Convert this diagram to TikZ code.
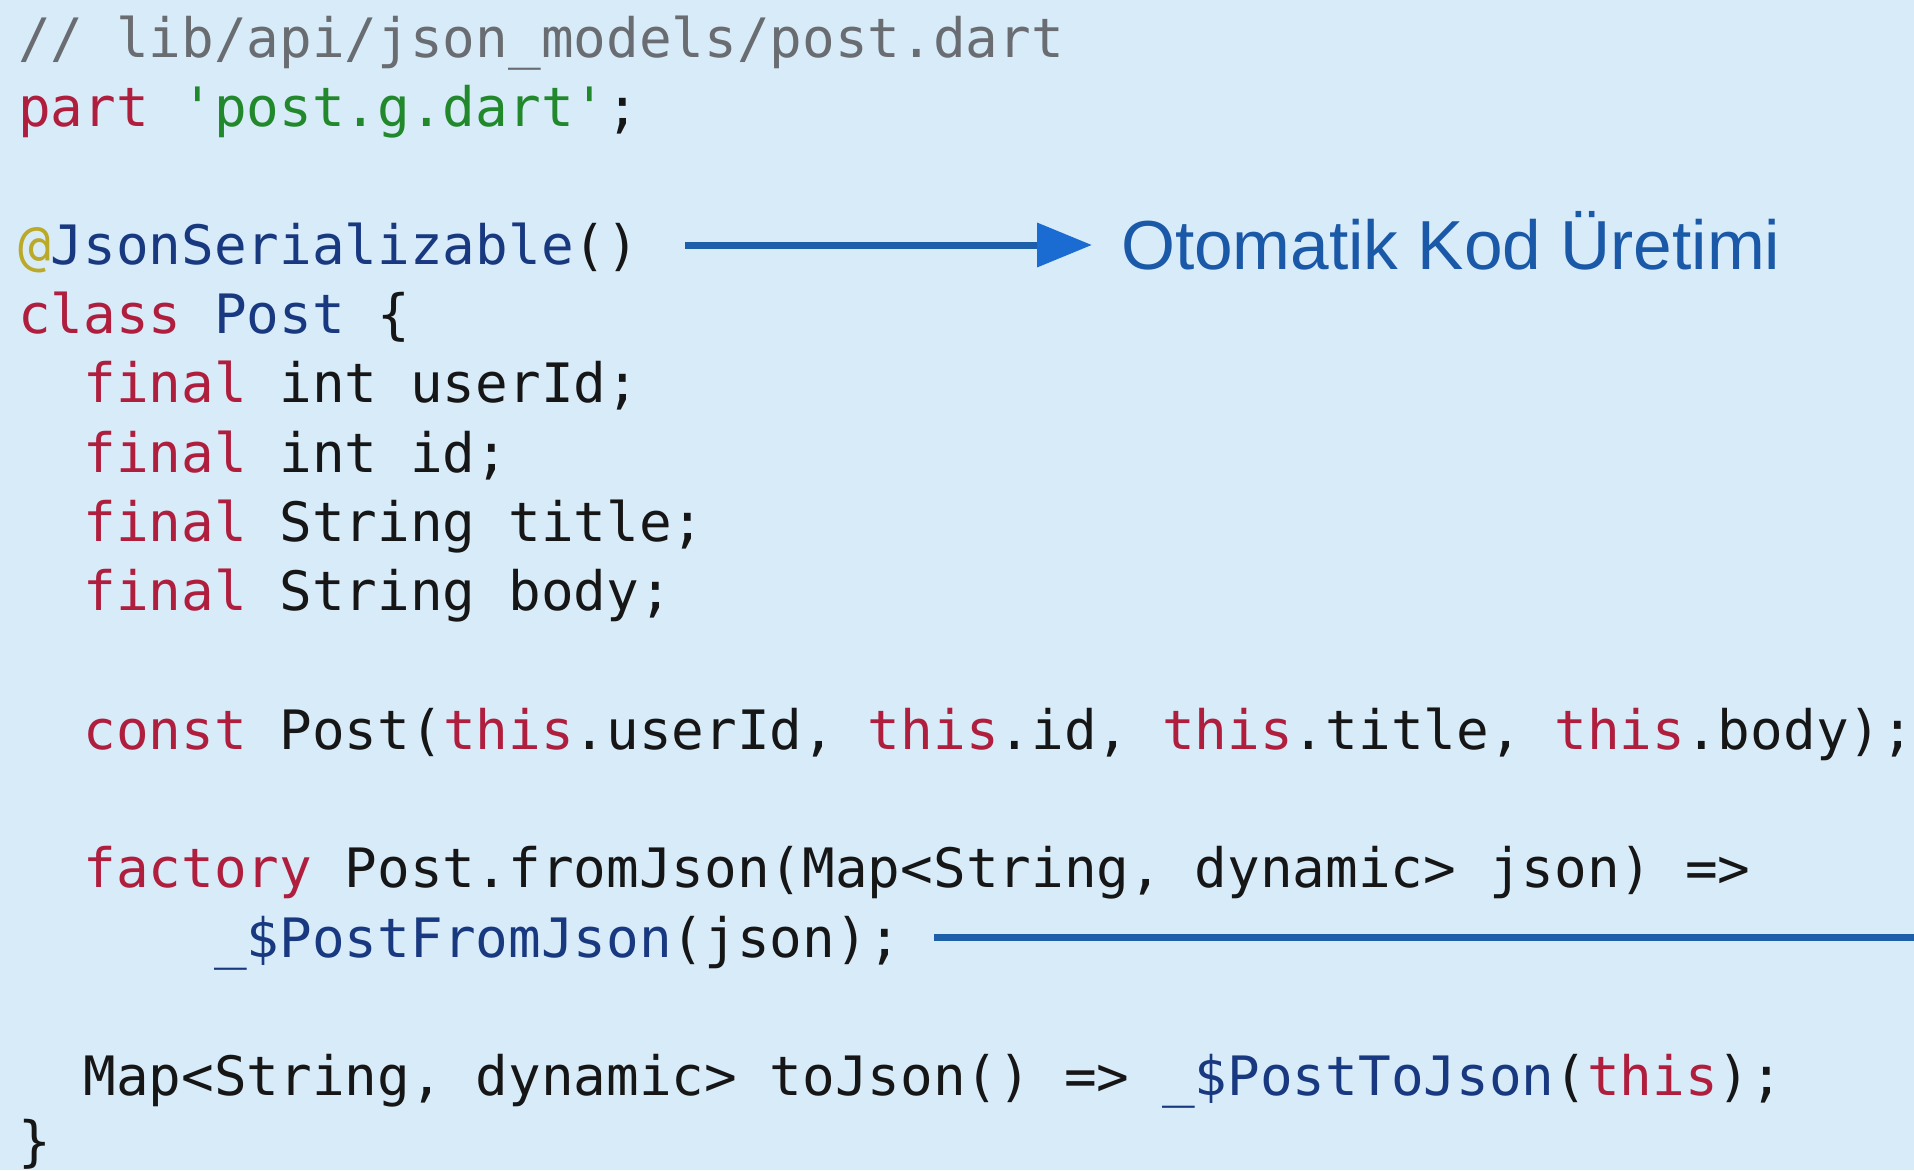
\documentclass[tikz,border=0pt]{standalone}
\usepackage{fontspec}
\setmonofont{DejaVu Sans Mono}
\setsansfont{Liberation Sans}
\usetikzlibrary{arrows.meta}
\definecolor{bg}{RGB}{216,235,249}
\definecolor{kw}{RGB}{176,30,62}
\definecolor{strc}{RGB}{34,136,44}
\definecolor{cls}{RGB}{24,56,128}
\definecolor{cm}{RGB}{105,108,112}
\definecolor{atc}{RGB}{186,170,40}
\definecolor{fg}{RGB}{22,22,22}
\definecolor{arr}{RGB}{30,95,170}
\definecolor{arrhead}{RGB}{26,108,210}
\definecolor{lblc}{RGB}{26,88,168}
\newcommand{\ckw}[1]{\textcolor{kw}{#1}}
\newcommand{\ccls}[1]{\textcolor{cls}{#1}}
\newcommand{\cstrl}[1]{\textcolor{strc}{#1}}
\tikzset{
  codeline/.style={anchor=base west, inner sep=0pt, outer sep=0pt,
    font=\ttfamily\fontsize{54.3}{65}\selectfont, text=fg},
  lbltext/.style={anchor=base west, inner sep=0pt, outer sep=0pt,
    font=\sffamily\fontsize{69.4}{80}\selectfont, text=lblc},
  bluearrow/.style={draw=arr, line width=7pt,
    -{Triangle[length=55pt,width=43pt,color=arrhead,fill=arrhead]}},
  blueline/.style={draw=arr, line width=7pt}
}
\begin{document}
\begin{tikzpicture}[x=1pt,y=-1pt]
\fill[bg] (0,0) rectangle (1914,1170);
\useasboundingbox (0,0) rectangle (1914,1170);
% col x = 18 + 32.7*col
\node[codeline, text=cm] (l0) at (18,57) {// lib/api/json\_models/post.dart};
\node[codeline] (l1) at (18,126) {\ckw{part} \cstrl{'post.g.dart'};};
\node[codeline] (l3) at (18,264) {\textcolor{atc}{@}\ccls{JsonSerializable}()};
\node[codeline] (l4) at (18,333) {\ckw{class} \ccls{Post} \{};
\node[codeline] (l5) at (83.4,402.5) {\ckw{final} int userId;};
\node[codeline] (l6) at (83.4,472) {\ckw{final} int id;};
\node[codeline] (l7) at (83.4,541) {\ckw{final} String title;};
\node[codeline] (l8) at (83.4,610) {\ckw{final} String body;};
\node[codeline] (l10) at (83.4,749) {\ckw{const} Post(\ckw{this}.userId, \ckw{this}.id, \ckw{this}.title, \ckw{this}.body);};
\node[codeline] (l12) at (83.4,887.5) {\ckw{factory} Post.fromJson(Map<String, dynamic> json) =>};
\node[codeline] (l13) at (214.2,957) {\ccls{\_\$PostFromJson}(json);};
\node[codeline] (l15) at (83.4,1095) {Map<String, dynamic> toJson() => \ccls{\_\$PostToJson}(\ckw{this});};
\node[codeline] (l16) at (18,1160) {\}};
\node[lbltext] (lbl) at (1121,269) {Otomatik Kod Üretimi};
\coordinate (a1s) at (685,245);
\coordinate (a1e) at (1092,245);
\coordinate (a2s) at (934,937);
\coordinate (a2e) at (1914,937);
\draw[bluearrow] (a1s) -- (a1e);
\draw[blueline] (a2s) -- (a2e);
\end{tikzpicture}
\end{document}
